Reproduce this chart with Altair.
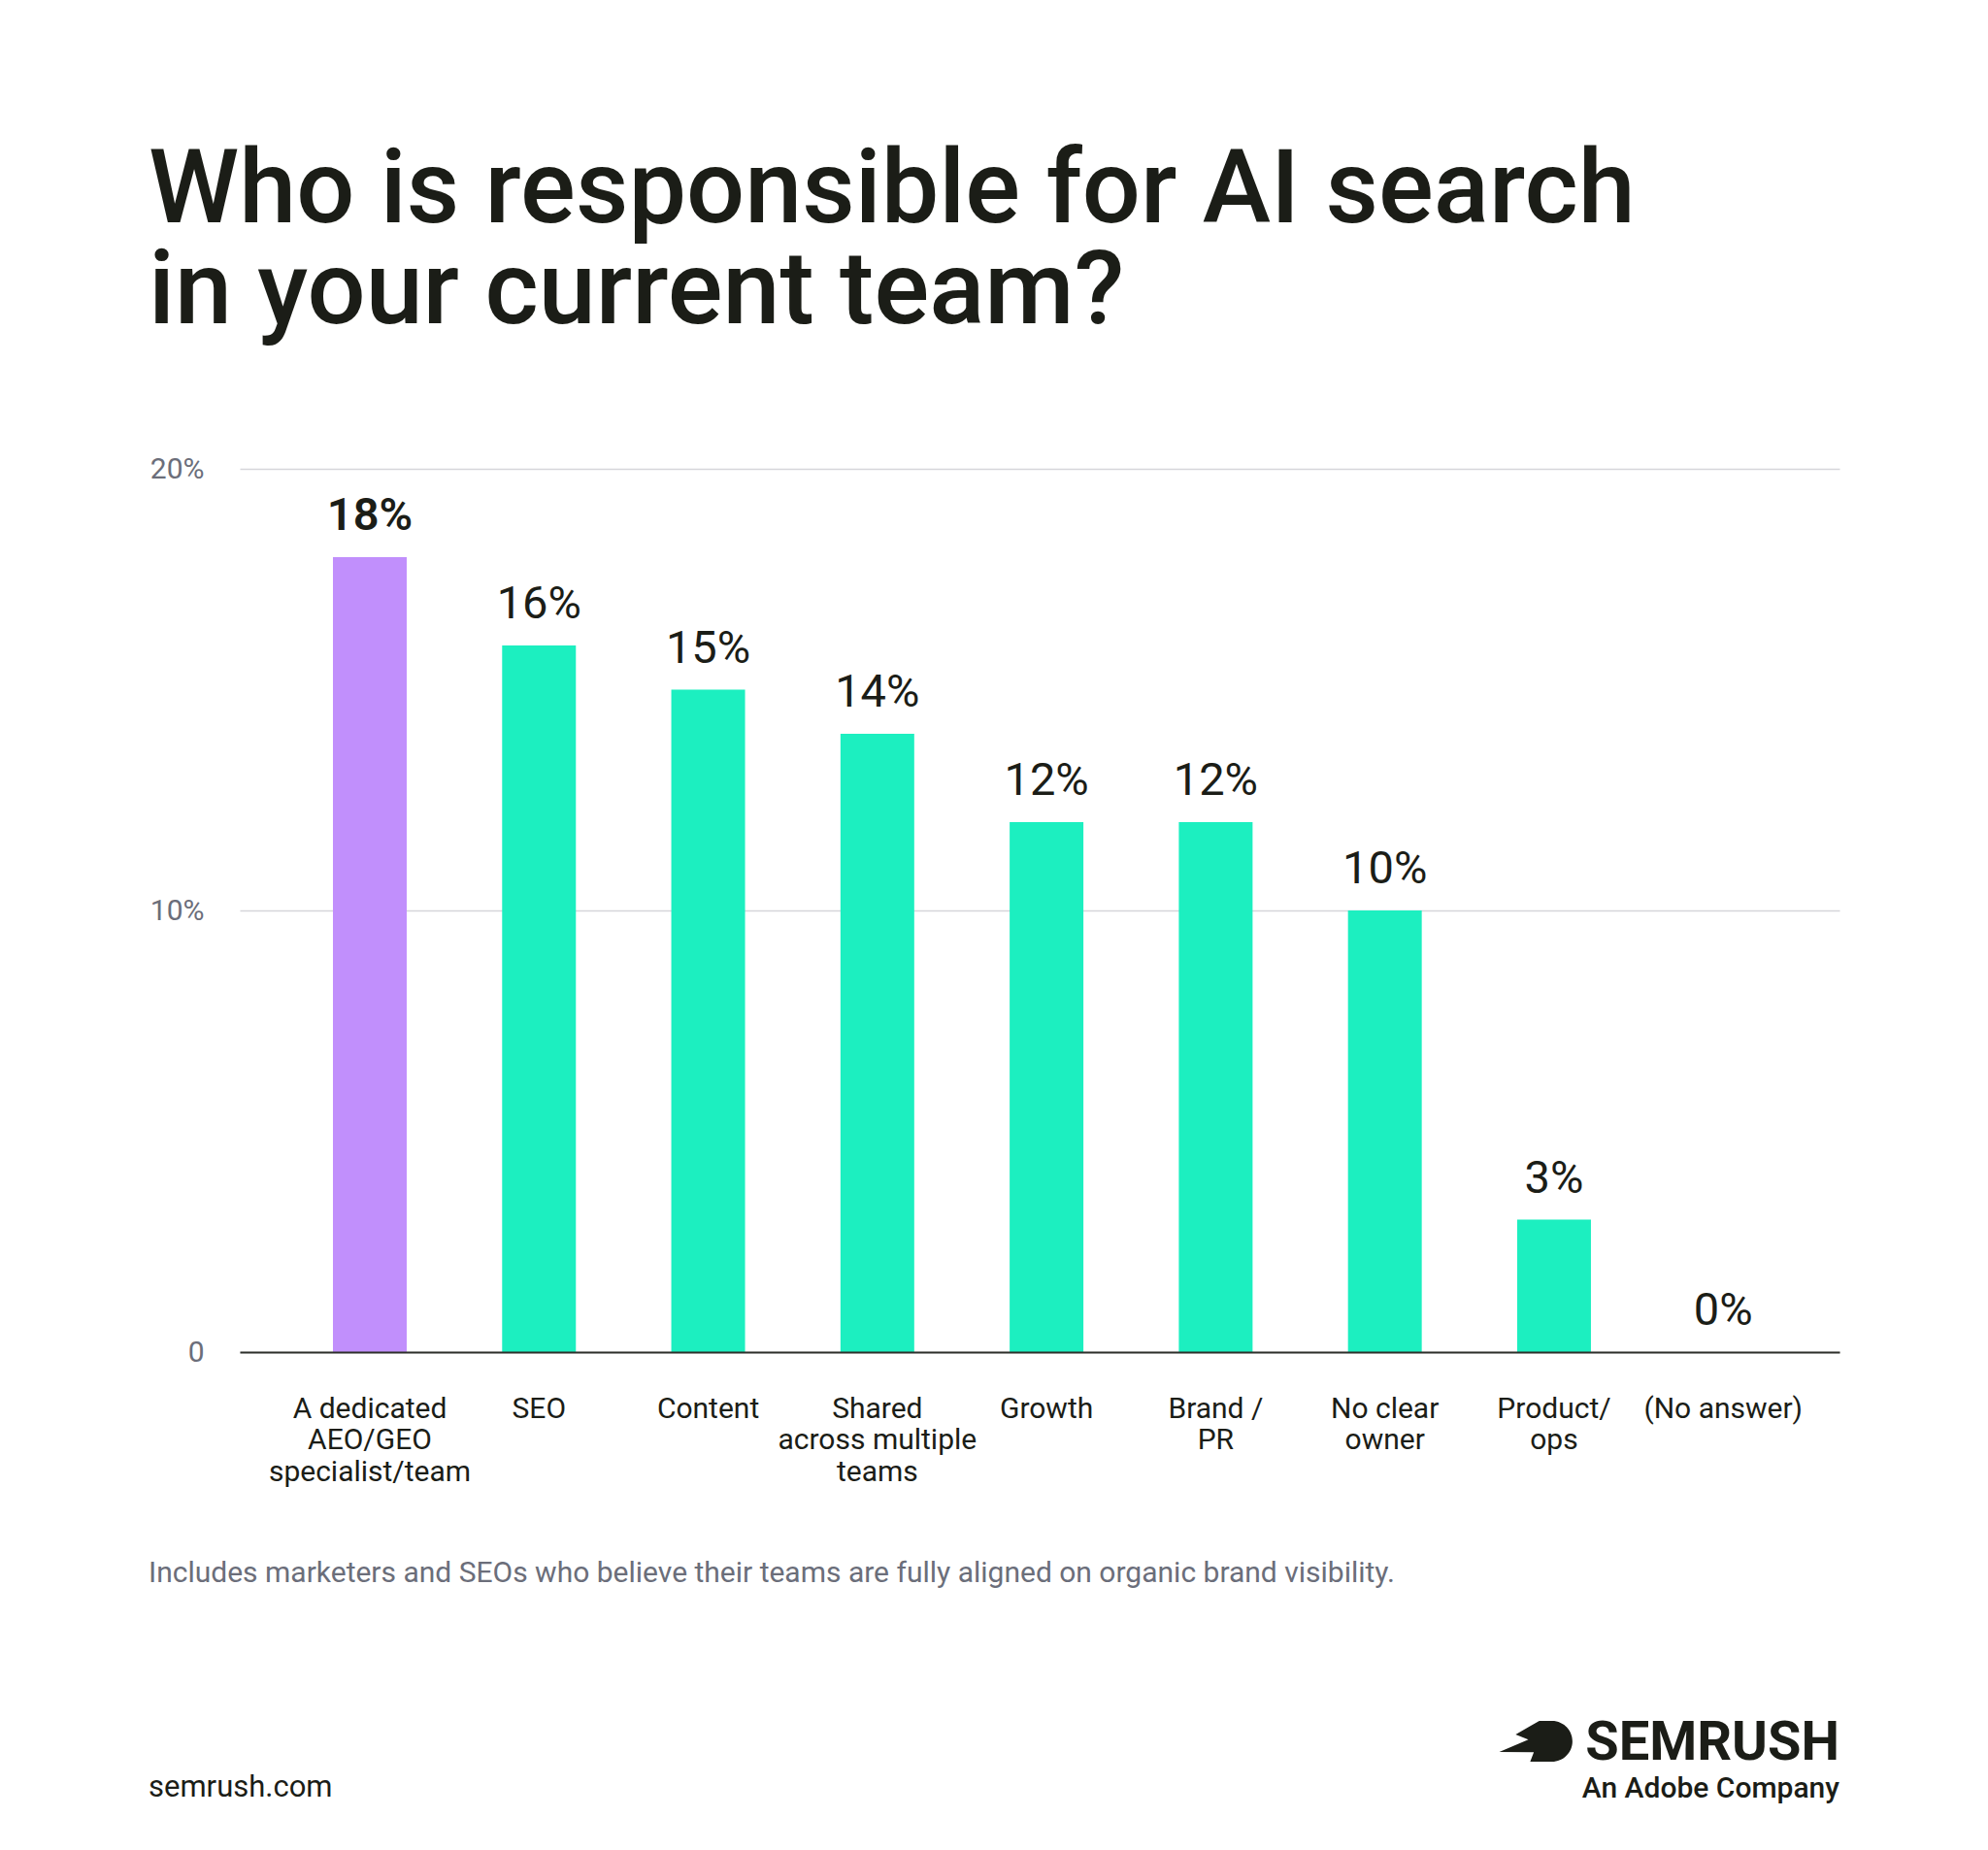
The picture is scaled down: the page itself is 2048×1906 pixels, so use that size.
import altair as alt
import pandas as pd

# ---- data ----
categories = [
    "A dedicated\nAEO/GEO\nspecialist/team",
    "SEO",
    "Content",
    "Shared\nacross multiple\nteams",
    "Growth",
    "Brand /\nPR",
    "No clear\nowner",
    "Product/\nops",
    "(No answer)",
]
values = [18, 16, 15, 14, 12, 12, 10, 3, 0]
groups = ["highlight"] + ["other"] * 8
y_ticks = [0, 10, 20]

title_lines = ["Who is responsible for AI search", "in your current team?"]
footnote = "Includes marketers and SEOs who believe their teams are fully aligned on organic brand visibility."
site = "semrush.com"
brand = "SEMRUSH"
brand_sub = "An Adobe Company"

df = pd.DataFrame({"category": categories, "value": values, "group": groups})

DARK = "#1b1d17"
GRAY = "#6b6e7a"
FONT = "Roboto"

base = alt.Chart(df).transform_calculate(label="datum.value + '%'")

x_enc = alt.X(
    "category:N",
    sort=None,
    scale=alt.Scale(paddingInner=0.564, paddingOuter=0.51, align=0.54),
    axis=alt.Axis(
        title=None,
        labelExpr="split(datum.label, '\\n')",
        labelAngle=0,
        labelFont=FONT,
        labelFontSize=30,
        labelColor=DARK,
        labelLineHeight=32.5,
        labelBaseline="alphabetic",
        labelPadding=67,
        labelLimit=500,
        ticks=False,
        tickSize=0,
        domain=True,
        domainColor="#2e302b",
        domainWidth=2,
        zindex=1,
    ),
)
y_enc = alt.Y(
    "value:Q",
    scale=alt.Scale(domain=[0, 20]),
    axis=alt.Axis(
        title=None,
        values=y_ticks,
        labelExpr="datum.value == 0 ? '0' : datum.value + '%'",
        labelFont=FONT,
        labelFontSize=30,
        labelColor=GRAY,
        labelPadding=37,
        labelBaseline="middle",
        grid=True,
        gridColor="#d6d6da",
        gridWidth=1.5,
        domain=False,
        ticks=False,
        tickSize=0,
    ),
)

bars = base.mark_bar().encode(
    x=x_enc,
    y=y_enc,
    color=alt.Color(
        "group:N",
        scale=alt.Scale(domain=["highlight", "other"], range=["#c18ffc", "#1cefc0"]),
        legend=None,
    ),
)

labels_hi = base.transform_filter("datum.group == 'highlight'").mark_text(
    dy=-28, baseline="alphabetic", font=FONT, fontSize=47, fontWeight=600, color=DARK
).encode(x=alt.X("category:N", sort=None), y="value:Q", text="label:N")

labels_other = base.transform_filter("datum.group != 'highlight'").mark_text(
    dy=-28, baseline="alphabetic", font=FONT, fontSize=47, fontWeight=400, color=DARK
).encode(x=alt.X("category:N", sort=None), y="value:Q", text="label:N")


def note(text, x, y, **kw):
    return alt.Chart(alt.Data(values=[{}])).mark_text(**kw).encode(
        x=alt.value(x), y=alt.value(y), text=alt.value(text)
    )


title = note(title_lines, -94, -254, align="left", baseline="alphabetic", font=FONT,
             fontSize=106, fontWeight=500, lineHeight=104, color=DARK)
foot = note(footnote, -94, 1147, align="left", baseline="alphabetic", font=FONT,
            fontSize=30, color=GRAY)
site_t = note(site, -94, 1368, align="left", baseline="alphabetic", font=FONT,
              fontSize=31, color=DARK)
brand_t = note(brand, 1648, 1330, align="right", baseline="alphabetic", font=FONT,
               fontSize=56, fontWeight="bold", color=DARK)
brand_sub_t = note(brand_sub, 1648, 1369, align="right", baseline="alphabetic", font=FONT,
                   fontSize=30, fontWeight=500, color=DARK)

logo_path = ("M 0.45,-0.56 A 0.56,0.56 0 0 1 0.45,0.56 L -0.15,0.56 L -0.05,0.3 "
             "L -1,0.29 L -0.2,-0.05 L -0.55,-0.19 L 0.1,-0.56 Z")
logo = alt.Chart(alt.Data(values=[{}])).mark_point(
    shape=logo_path, filled=True, color=DARK, opacity=1, size=5625, strokeWidth=0
).encode(x=alt.value(1335), y=alt.value(1311))

chart = alt.layer(
    bars, labels_hi, labels_other, title, foot, site_t, brand_t, brand_sub_t, logo
).properties(
    width=1648,
    height=910,
    autosize=alt.AutoSizeParams(type="none"),
    padding={"left": 239, "top": 475, "right": 137, "bottom": 489},
    background="white",
).configure_view(stroke=None)

chart.save("out.html", embed_options={"renderer": "svg", "actions": False})
